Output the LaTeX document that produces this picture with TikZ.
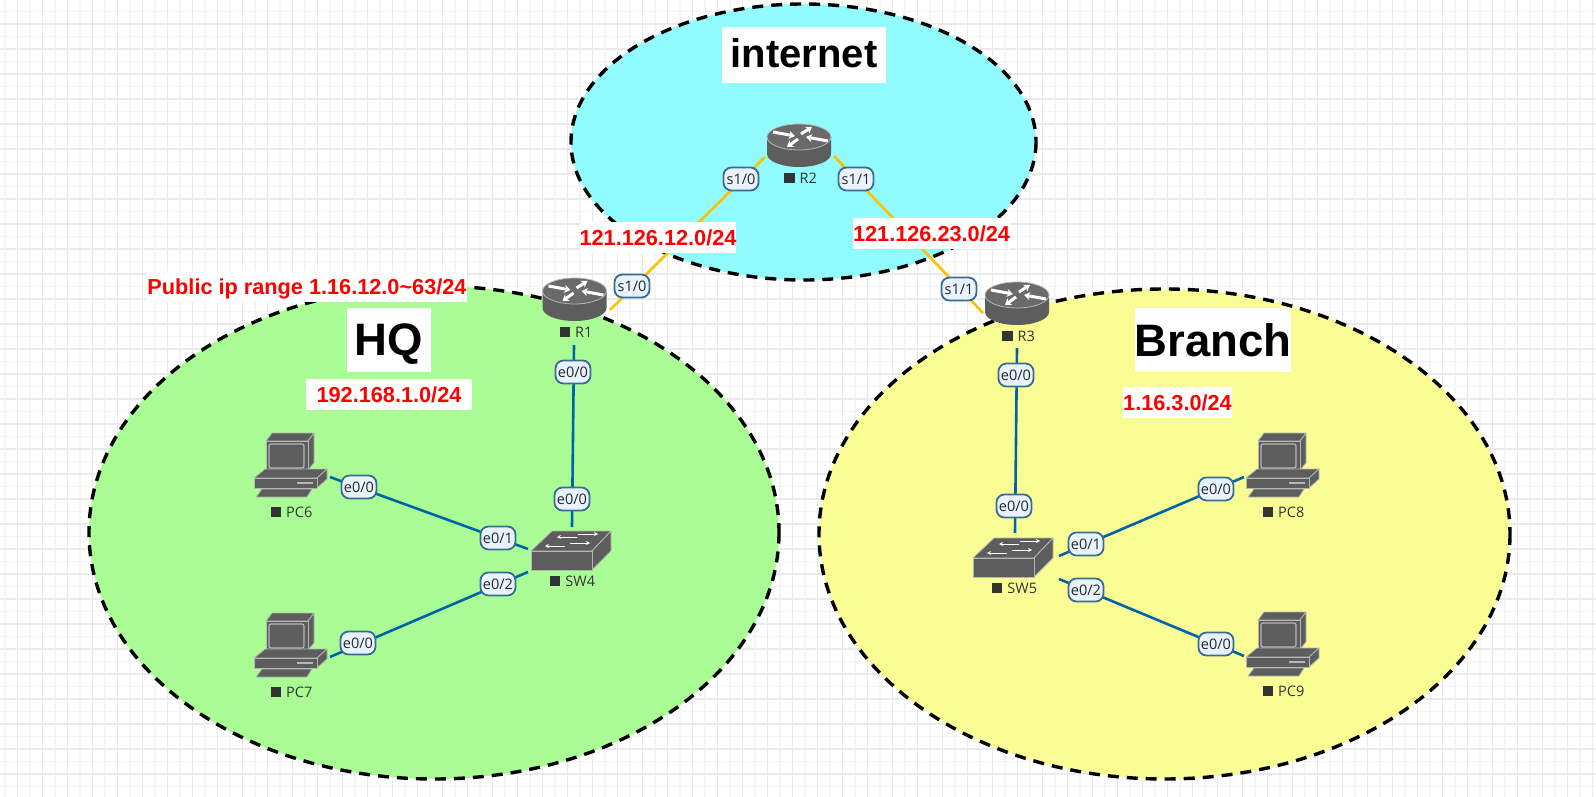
\documentclass[tikz,border=0pt]{standalone}
\usepackage{fontspec}
\setmainfont{Liberation Sans}
\newfontfamily\devfont{Open Sans}
\usetikzlibrary{arrows.meta}
\definecolor{netfill}{HTML}{91FBFD}
\definecolor{hqfill}{HTML}{A9FD94}
\definecolor{brfill}{HTML}{FAFD94}
\definecolor{serialc}{HTML}{FFC000}
\definecolor{ethc}{HTML}{0062A8}
\definecolor{portfill}{HTML}{E8F3FE}
\definecolor{portedge}{HTML}{3A6C94}
\definecolor{icon}{HTML}{5D5D5D}
\definecolor{icontop}{HTML}{6A6A6A}
\definecolor{iconedge}{HTML}{B4B8B4}
\definecolor{labc}{HTML}{333333}
\definecolor{gridmaj}{HTML}{EAEAEC}
\definecolor{gridmin}{HTML}{F5F5F7}
\tikzset{
  zone/.style={draw=black,line width=3.4pt,dash pattern=on 11pt off 8pt},
  serial/.style={draw=serialc,line width=2.6pt},
  eth/.style={draw=ethc,line width=2.6pt},
  port/.style={draw=portedge,fill=portfill,line width=1.8pt,rounded corners=8pt,
    minimum width=35pt,minimum height=23pt,inner sep=0pt,text=black!85,
    font=\devfont\fontsize{14.5}{15}\selectfont},
  whitebox/.style={fill=white,inner sep=0pt},
  redtext/.style={whitebox,text=red,font=\bfseries\fontsize{21.7}{24}\selectfont,text height=15.5pt,text depth=0pt},
  bigtext/.style={whitebox,text=black,font=\bfseries\fontsize{45.5}{48}\selectfont},
  devlabel/.style={inner sep=0pt,text=labc,font=\devfont\fontsize{14.5}{15}\selectfont},
  devbox/.style={inner sep=0pt,draw=none},
  routericon/.pic={
    \fill[icon] (-32,0) -- (-32,17) arc[x radius=32,y radius=13,start angle=180,end angle=0] -- (32,0) -- cycle;
    \draw[fill=icontop,draw=iconedge,line width=0.8pt] (0,0) ellipse[x radius=32,y radius=13];
    \foreach \a/\b/\c/\d in {-26/-5/-4/-1, 2/-3/13/-10, -1/2/-12/10, 29/4/7/0}
      \draw[white,line width=3pt,-{Stealth[length=6pt,width=8pt]}] (\a,\b) -- (\c,\d);
  },
  switchicon/.pic={
    \draw[fill=icon,draw=iconedge,line width=0.8pt,line join=round] (0,0) -- (21,-20) -- (80,-20) -- (61,0) -- cycle;
    \draw[fill=icon,draw=iconedge,line width=0.8pt,line join=round] (61,0) -- (80,-20) -- (80,0) -- (61,19) -- cycle;
    \draw[fill=icon,draw=iconedge,line width=0.8pt] (0,0) rectangle (61,19);
    \foreach \a/\b/\c/\d in {47/-17/67/-17, 46/-14/26/-14, 34/-5/14/-5, 39/-8/59/-8}
      \draw[white,line width=1pt,-{Stealth[length=4pt,width=4pt]}] (\a,\b) -- (\c,\d);
  },
  pcicon/.pic={
    \begin{scope}[fill=icon,draw=iconedge,line width=0.8pt,line join=round]
    \filldraw (0,0) -- (6,-8) -- (48,-8) -- (42,0) -- cycle;
    \filldraw (42,0) -- (48,-8) -- (48,22) -- (42,29) -- cycle;
    \filldraw (0,0) rectangle (42,29);
    \draw[draw=iconedge,line width=1.2pt,rounded corners=2pt,fill=icon] (3,3) rectangle (38,27);
    \filldraw (-12,37) -- (-1,28) -- (61,28) -- (51,37) -- cycle;
    \filldraw (51,37) -- (61,28) -- (61,38) -- (51,47) -- cycle;
    \filldraw (-12,37) rectangle (51,47);
    \filldraw (-10,56) -- (-4,48) -- (46,48) -- (41,56) -- cycle;
    \draw[iconedge,line width=1.2pt] (31,42) -- (47,42);
    \end{scope}
  },
}
\newcommand{\devname}[1]{\textcolor{labc}{\rule{10.5pt}{10.5pt}}\hspace{5pt}#1}
\newcommand{\devrouter}[4]{% name, cx, top, text
  \node[devbox,minimum width=64pt,minimum height=43pt] (#1) at (#2,#3+21.5) {};
  \pic at (#2,#3+13) {routericon};
  \node[devlabel] (#1-name) at (#2+1.5,#3+54) {\devname{#4}};
}
\newcommand{\devswitch}[4]{% name, x, y, text
  \node[devbox,minimum width=80pt,minimum height=39pt] (#1) at (#2+40,#3) {};
  \pic at (#2,#3) {switchicon};
  \node[devlabel] (#1-name) at (#2+41.5,#3+30) {\devname{#4}};
}
\newcommand{\devpc}[4]{% name, x, y, text
  \node[devbox,minimum width=73pt,minimum height=64pt] (#1) at (#2+24.5,#3+24) {};
  \pic at (#2,#3) {pcicon};
  \node[devlabel] (#1-name) at (#2+25.5,#3+71) {\devname{#4}};
}
\begin{document}
\begin{tikzpicture}[x=1pt,y=-1pt]
\useasboundingbox (0,0) rectangle (1596,797);
\fill[white] (0,0) rectangle (1596,797);
% grid
\foreach \i in {0,...,64}{
  \pgfmathsetmacro{\xa}{5+25*\i}
  \draw[gridmin,line width=1.2pt] (\xa,0) -- (\xa,797);
}
\foreach \i in {0,...,32}{
  \pgfmathsetmacro{\ya}{11.5+25*\i}
  \draw[gridmin,line width=1.2pt] (0,\ya) -- (1596,\ya);
}
\foreach \i in {0,...,63}{
  \pgfmathsetmacro{\xa}{17.5+25*\i}
  \draw[gridmaj,line width=1.2pt] (\xa,0) -- (\xa,797);
}
\foreach \i in {0,...,31}{
  \pgfmathsetmacro{\ya}{24+25*\i}
  \draw[gridmaj,line width=1.2pt] (0,\ya) -- (1596,\ya);
}
% zones
\draw[zone,fill=netfill] (803.5,142) ellipse[x radius=232.5,y radius=138];
\draw[zone,fill=hqfill] (434,532.5) ellipse[x radius=345,y radius=246.5];
\draw[zone,fill=brfill] (1164.5,534) ellipse[x radius=345.5,y radius=245];
% connector ends
\coordinate (r1a) at (610,310);
\coordinate (r2a) at (765,157);
\coordinate (r2b) at (834,156);
\coordinate (r3a) at (983,313);
\coordinate (r1b) at (574,345);
\coordinate (s4a) at (572,527);
\coordinate (pc6a) at (330,477);
\coordinate (s4b) at (528,549);
\coordinate (pc7a) at (330,657);
\coordinate (s4c) at (528,572);
\coordinate (r3b) at (1017,348);
\coordinate (s5a) at (1015,533);
\coordinate (s5b) at (1059,556);
\coordinate (pc8a) at (1244,477);
\coordinate (s5c) at (1059,579);
\coordinate (pc9a) at (1244,656);
% connectors
\draw[serial] (r1a) -- (r2a);
\draw[serial] (r2b) -- (r3a);
\draw[eth] (r1b) -- (s4a);
\draw[eth] (pc6a) -- (s4b);
\draw[eth] (pc7a) -- (s4c);
\draw[eth] (r3b) -- (s5a);
\draw[eth] (s5b) -- (pc8a);
\draw[eth] (s5c) -- (pc9a);
% devices
\devrouter{r1}{574.5}{278}{R1}
\devrouter{r2}{799}{124}{R2}
\devrouter{r3}{1017}{282}{R3}
\devswitch{sw4}{531}{551}{SW4}
\devswitch{sw5}{973}{558}{SW5}
\devpc{pc6}{266}{441}{PC6}
\devpc{pc7}{266}{621}{PC7}
\devpc{pc8}{1258}{441}{PC8}
\devpc{pc9}{1258}{620}{PC9}
% port labels
\node[port] (p1) at (741,179) {s1/0};
\node[port] (p2) at (632,286) {s1/0};
\node[port] (p3) at (856,179) {s1/1};
\node[port] (p4) at (959,289) {s1/1};
\node[port] (p5) at (573,372) {e0/0};
\node[port] (p6) at (572,499) {e0/0};
\node[port] (p7) at (359,487) {e0/0};
\node[port] (p8) at (498,538) {e0/1};
\node[port] (p9) at (358,643) {e0/0};
\node[port] (p10) at (498,584) {e0/2};
\node[port] (p11) at (1016,375) {e0/0};
\node[port] (p12) at (1014,506) {e0/0};
\node[port] (p13) at (1086,544) {e0/1};
\node[port] (p14) at (1216,489) {e0/0};
\node[port] (p15) at (1086,590) {e0/2};
\node[port] (p16) at (1216,644) {e0/0};
% titles
\node[bigtext,font=\bfseries\fontsize{40}{44}\selectfont,minimum width=164pt,minimum height=56pt,text height=29pt,text depth=4pt] (tnet) at (804,55) {internet};
\node[bigtext,minimum width=84pt,minimum height=64pt,text height=33pt,text depth=2pt] (thq) at (389,340) {HQ};
\node[bigtext,minimum width=156pt,minimum height=64pt,text height=33pt,text depth=0pt] (tbr) at (1213,340) {Branch};
\node[redtext,minimum width=156pt,minimum height=31pt] (n1) at (658,237.5) {121.126.12.0/24};
\node[redtext,minimum width=157pt,minimum height=31pt] (n2) at (931.5,233.5) {121.126.23.0/24};
\node[redtext,minimum width=320pt,minimum height=31pt] (n3) at (307,286.5) {Public ip range 1.16.12.0\char`\~63/24};
\node[redtext,minimum width=166pt,minimum height=31pt] (n4) at (389,394.5) {192.168.1.0/24};
\node[redtext,minimum width=109pt,minimum height=31pt] (n5) at (1177.5,402.5) {1.16.3.0/24};
\end{tikzpicture}
\end{document}
